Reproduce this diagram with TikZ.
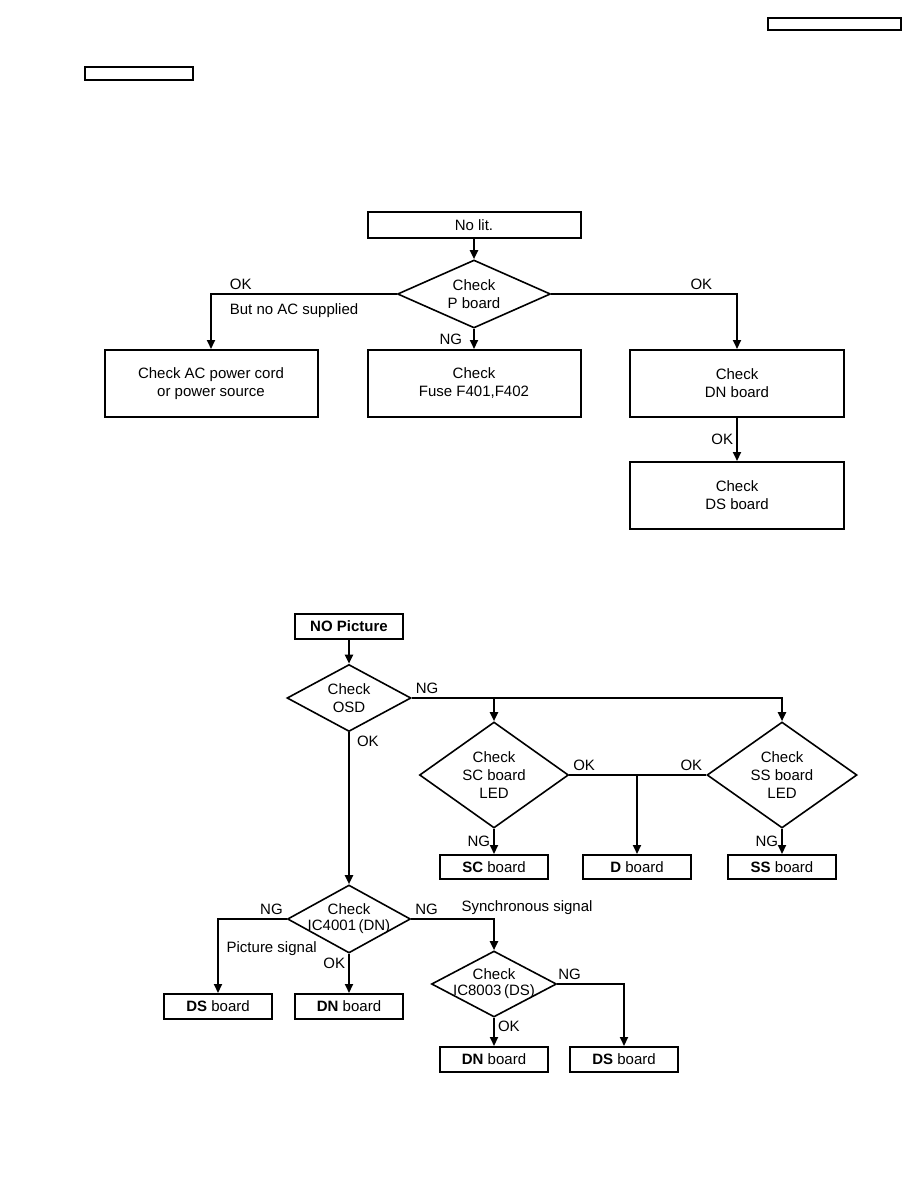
\documentclass[tikz,border=0pt]{standalone}
\usepackage{fontspec}
\setmainfont{Liberation Sans}
\usetikzlibrary{arrows.meta,positioning,shapes.geometric}

\begin{document}
\begin{tikzpicture}[
  x=1pt, y=-1pt,
  font=\fontsize{15}{18}\selectfont,
  box/.style={rectangle, draw, line width=2pt, inner sep=0pt, align=center},
  bigbox/.style={box, minimum width=213pt, minimum height=67pt},
  smallbox/.style={box, minimum width=108pt, minimum height=25pt},
  decision/.style={diamond, draw, line width=1.6pt, inner sep=0pt, aspect=1.5},
  inside/.style={align=center, inner sep=0pt},
  tight/.style={inside, font=\fontsize{15}{16}\selectfont},
  hdr/.style={rectangle, draw, line width=1.5pt, inner sep=0pt},
  arrow/.style={-{Triangle[length=9pt, width=8pt]}, line width=2pt},
  link/.style={line width=2pt},
  lbl/.style={inner sep=3pt}
]
\useasboundingbox (0,0) rectangle (918,1188);

% Page header boxes
\node[hdr, minimum width=133pt, minimum height=12pt] (hdrright) at (834.5,24) {};
\node[hdr, minimum width=108pt, minimum height=13pt] (hdrleft) at (139,73.5) {};

% No lit.
\node[box, minimum width=213pt, minimum height=26pt] (nolit) at (474,225) {No lit.};
\node[decision, minimum width=153pt, minimum height=68pt,
      label={[inside]center:Check\\P board}] (pboard) at (474,294) {};
\node[bigbox] (accord) at (211,383.5) {Check AC power cord\\or power source};
\node[bigbox] (fuse) at (474,383.5) {Check\\Fuse F401,F402};
\node[bigbox, minimum width=214pt] (dncheck) at (737,383.5) {Check\\DN board};
\node[bigbox, minimum width=214pt] (dscheck) at (737,495.5) {Check\\DS board};

\draw[arrow] (nolit) -- (pboard);
\draw[arrow] (pboard.west) -| (accord)
  node[lbl, pos=0.46, above right] {OK}
  node[lbl, pos=0.46, below right, yshift=-6pt] {But no AC supplied};
\draw[arrow] (pboard) -- (fuse) node[lbl, midway, left, xshift=-8pt] {NG};
\draw[arrow] (pboard.east) -| (dncheck) node[lbl, pos=0.444, above left] {OK};
\draw[arrow] (dncheck) -- (dscheck) node[lbl, midway, left] {OK};

% NO Picture
\node[smallbox, line width=2.2pt, font=\fontsize{15}{18}\selectfont\bfseries] (nopic) at (349,626.5) {NO Picture};
\node[decision, minimum width=124pt, minimum height=67pt,
      label={[inside]center:Check\\OSD}] (osd) at (349,698) {};
\node[decision, minimum width=149pt, minimum height=106pt,
      label={[inside]center:Check\\SC board\\LED}] (scled) at (494,775) {};
\node[decision, minimum width=150pt, minimum height=106pt,
      label={[inside]center:Check\\SS board\\LED}] (ssled) at (782,775) {};
\node[smallbox, minimum height=24pt] (scboard) at (494,867) {\textbf{SC} board};
\node[smallbox, minimum height=24pt] (dboard) at (637,867) {\textbf{D} board};
\node[smallbox, minimum height=24pt] (ssboard) at (782,867) {\textbf{SS} board};
\node[decision, minimum width=123pt, minimum height=68pt,
      label={[tight]center:Check\\IC4001\,(DN)}] (ic4001) at (349,919) {};
\node[smallbox] (dsboarda) at (218,1006.5) {\textbf{DS} board};
\node[smallbox] (dnboarda) at (349,1006.5) {\textbf{DN} board};
\node[decision, minimum width=125pt, minimum height=66pt,
      label={[tight]center:Check\\IC8003\,(DS)}] (ic8003) at (494,984) {};
\node[smallbox] (dnboardb) at (494,1059.5) {\textbf{DN} board};
\node[smallbox] (dsboardb) at (624,1059.5) {\textbf{DS} board};

\draw[arrow] (nopic) -- (osd);
\draw[arrow] (osd.east) -| (ssled) node[lbl, pos=0, above right] {NG};
\draw[arrow] (osd.east -| scled) -- (scled);
\draw[arrow] (osd) -- (ic4001) node[lbl, pos=0, below right, xshift=4pt] {OK};
\draw[link] (scled.east) -- (ssled.west)
  node[lbl, pos=0, above right] {OK}
  node[lbl, pos=1, above left] {OK};
\draw[arrow] (scled.east -| dboard) -- (dboard);
\draw[arrow] (scled) -- (scboard) node[lbl, midway, left] {NG};
\draw[arrow] (ssled) -- (ssboard) node[lbl, midway, left] {NG};

\draw[arrow] (ic4001.west) -| (dsboarda)
  node[lbl, pos=0, above left] {NG}
  node[lbl, pos=0, anchor=east, xshift=34pt, yshift=-30pt] {Picture signal};
\draw[arrow] (ic4001) -- (dnboarda) node[lbl, pos=0.25, left] {OK};
\draw[arrow] (ic4001.east) -| (ic8003)
  node[lbl, pos=0, above right] {NG}
  node[lbl, pos=0.28, above right] {Synchronous signal};
\draw[arrow] (ic8003.east) -| (dsboardb) node[lbl, pos=0, above right, xshift=-3pt] {NG};
\draw[arrow] (ic8003) -- (dnboardb) node[lbl, pos=0.3, right] {OK};
\end{tikzpicture}
\end{document}
